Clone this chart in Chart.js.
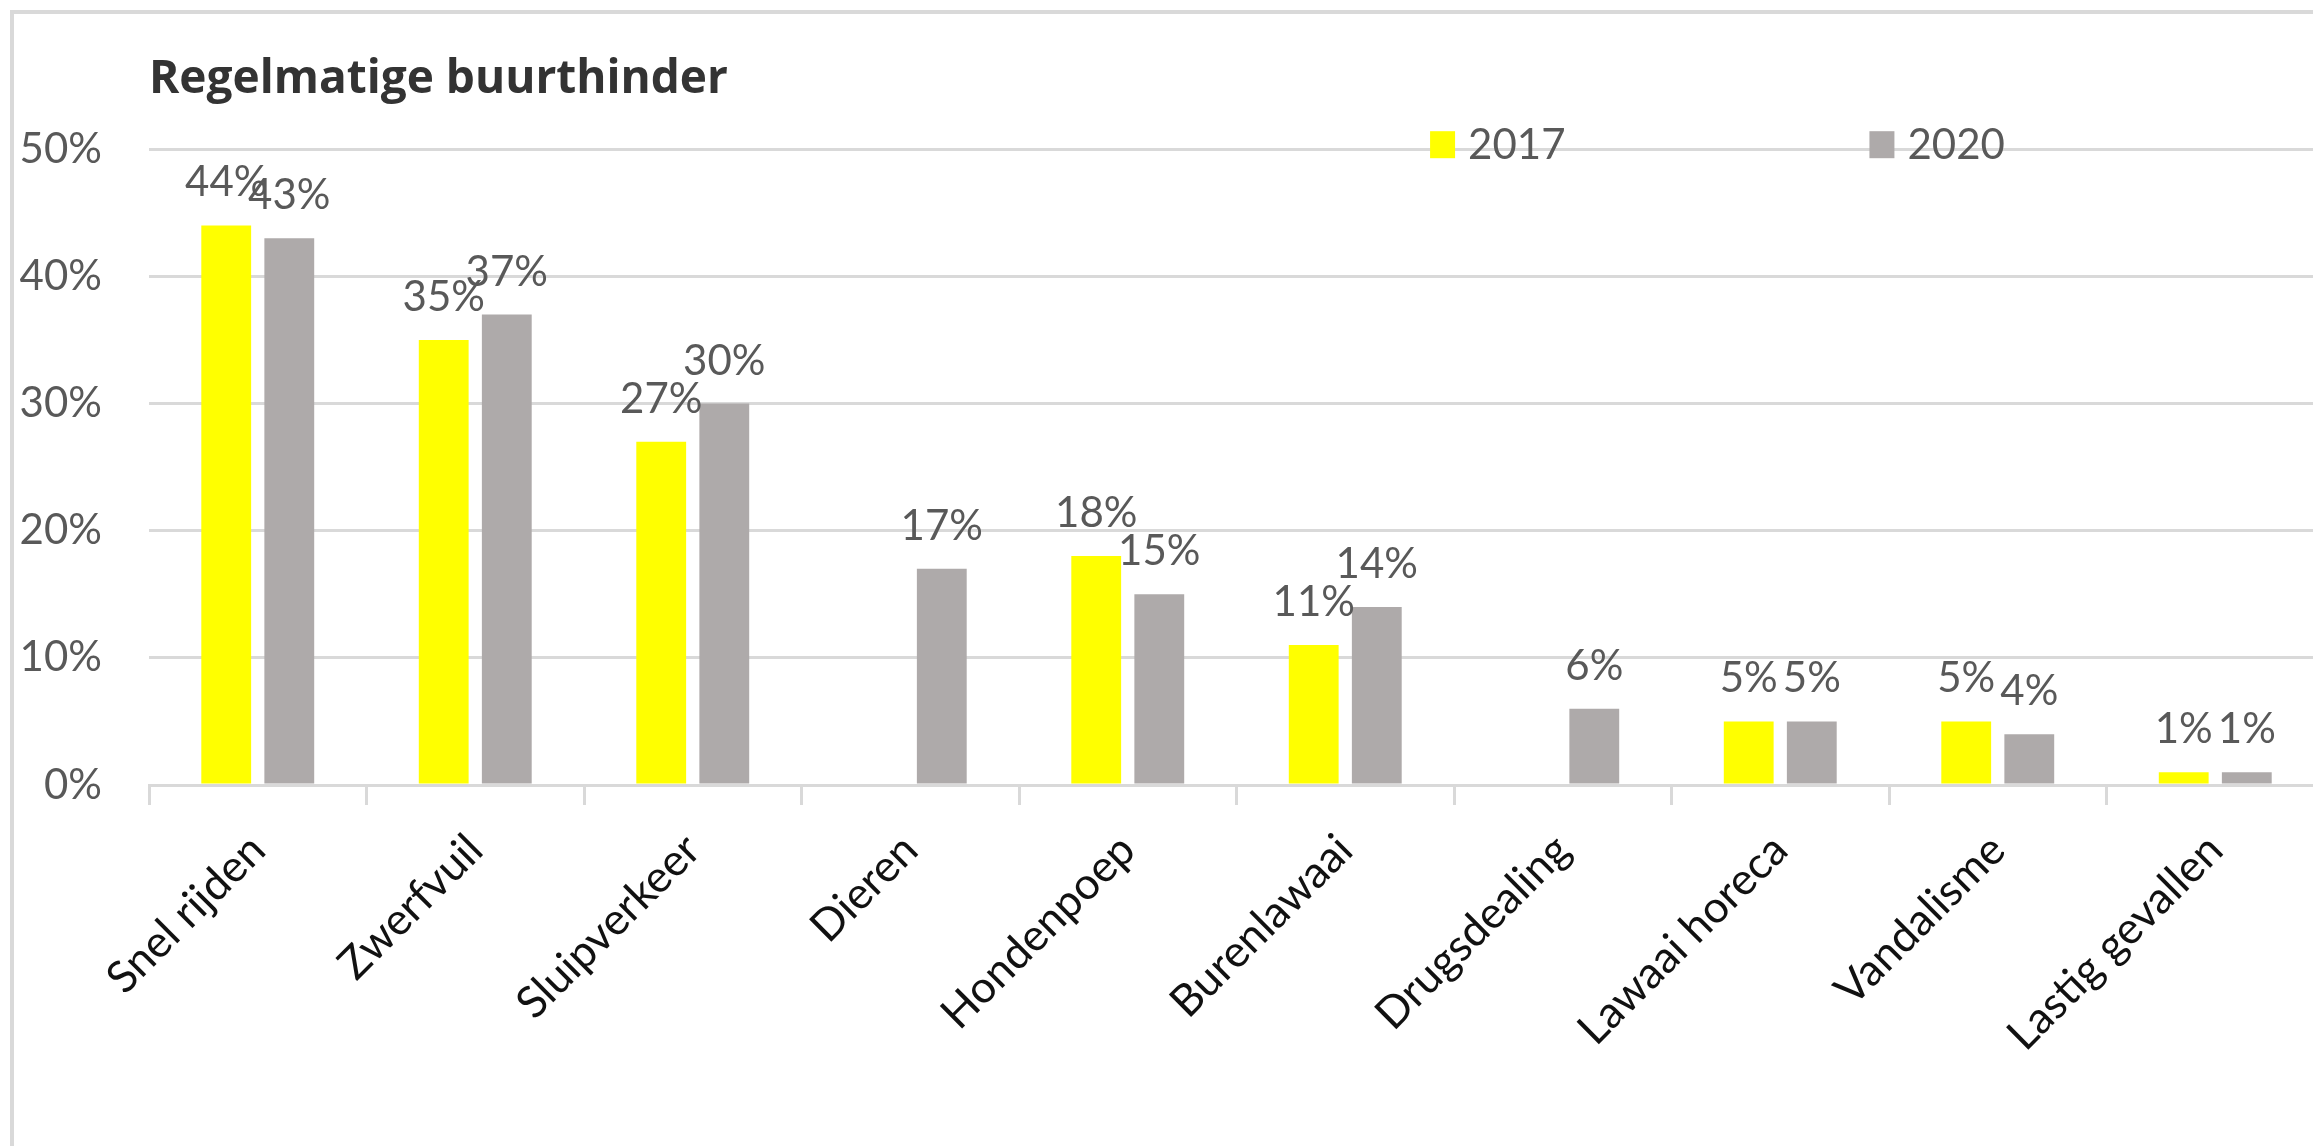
<!DOCTYPE html>
<html>
<head>
<meta charset="utf-8">
<script src="https://cdn.jsdelivr.net/npm/chart.js@4/dist/chart.umd.min.js"></script>
<style>
  html, body { margin: 0; padding: 0; overflow: hidden; background: #fff; }
  #frame { position: absolute; left: 10px; top: 10px; width: 3000px; height: 3000px; border: 4px solid #d9d9d9; }
  #chart { position: absolute; left: 0; top: 0; }
</style>
</head>
<body>
<div id="frame"></div>
<canvas id="chart" width="2330" height="1146"></canvas>
<script>
const categories = ["Snel rijden", "Zwerfvuil", "Sluipverkeer", "Dieren", "Hondenpoep",
  "Burenlawaai", "Drugsdealing", "Lawaai horeca", "Vandalisme", "Lastig gevallen"];
const seriesNames = ["2017", "2020"];
const values2017 = [44, 35, 27, null, 18, 11, null, 5, 5, 1];
const values2020 = [43, 37, 30, 17, 15, 14, 6, 5, 4, 1];
const yTicks = [0, 10, 20, 30, 40, 50];

Chart.defaults.font.family = "Lato";

// value labels above each bar
const barLabels = {
  id: "barLabels",
  afterDatasetsDraw(chart) {
    const ctx = chart.ctx;
    ctx.save();
    ctx.font = "42px Lato";
    ctx.fillStyle = "#595959";
    ctx.textAlign = "center";
    ctx.textBaseline = "alphabetic";
    chart.data.datasets.forEach((ds, i) => {
      chart.getDatasetMeta(i).data.forEach((bar, j) => {
        const v = ds.data[j];
        if (v == null) return;
        ctx.fillText(v + "%", bar.x, bar.y - 29);
      });
    });
    ctx.restore();
  }
};

// legend sits inside the plot, on the top gridline
const legendRow = {
  id: "legendRow",
  afterDraw(chart) {
    const ctx = chart.ctx;
    const area = chart.chartArea;
    const spots = [0.589, 0.791];
    ctx.save();
    ctx.font = "42px Lato";
    ctx.textBaseline = "alphabetic";
    ctx.textAlign = "left";
    chart.data.datasets.forEach((ds, i) => {
      const x = area.left + area.width * spots[i];
      ctx.fillStyle = ds.backgroundColor;
      ctx.fillRect(x, area.top - 18, 25, 27);
      ctx.fillStyle = "#595959";
      ctx.fillText(ds.label, x + 38, area.top + 10);
    });
    ctx.restore();
  }
};

new Chart(document.getElementById("chart"), {
  type: "bar",
  data: {
    labels: categories,
    datasets: [{
      label: seriesNames[0],
      data: values2017,
      backgroundColor: "#ffff00",
      categoryPercentage: 0.58,
      barPercentage: 0.79
    }, {
      label: seriesNames[1],
      data: values2020,
      backgroundColor: "#aeaaaa",
      categoryPercentage: 0.58,
      barPercentage: 0.79
    }]
  },
  options: {
    responsive: false,
    animation: false,
    devicePixelRatio: 1,
    layout: { padding: { left: 0, right: 6, top: 0, bottom: 0 } },
    plugins: {
      legend: { display: false },
      tooltip: { enabled: false },
      title: {
        display: true,
        text: "Regelmatige buurthinder",
        align: "start",
        fullSize: false,
        color: "#333333",
        font: { family: "Open Sans", size: 46, weight: "bold" },
        padding: { top: 52, bottom: 42 }
      }
    },
    scales: {
      x: {
        afterFit: s => { s.height = 361; },
        grid: {
          offset: true,
          drawOnChartArea: false,
          drawTicks: true,
          tickLength: 20,
          color: "#d9d9d9",
          lineWidth: 3
        },
        border: { display: true, color: "#d9d9d9", width: 3 },
        ticks: {
          autoSkip: false,
          minRotation: 45,
          maxRotation: 45,
          padding: 19,
          labelOffset: 0,
          color: "#111111",
          font: { family: "Lato", size: 44 }
        }
      },
      y: {
        min: yTicks[0],
        max: yTicks[yTicks.length - 1],
        afterFit: s => { s.width = 149; },
        afterBuildTicks: s => { s.ticks = yTicks.map(v => ({ value: v })); },
        grid: { color: "#d9d9d9", lineWidth: 3, drawTicks: false },
        border: { display: false },
        ticks: {
          padding: 47,
          color: "#595959",
          font: { family: "Lato", size: 42 },
          callback: v => v + "%"
        }
      }
    }
  },
  plugins: [barLabels, legendRow]
});
</script>
</body>
</html>
